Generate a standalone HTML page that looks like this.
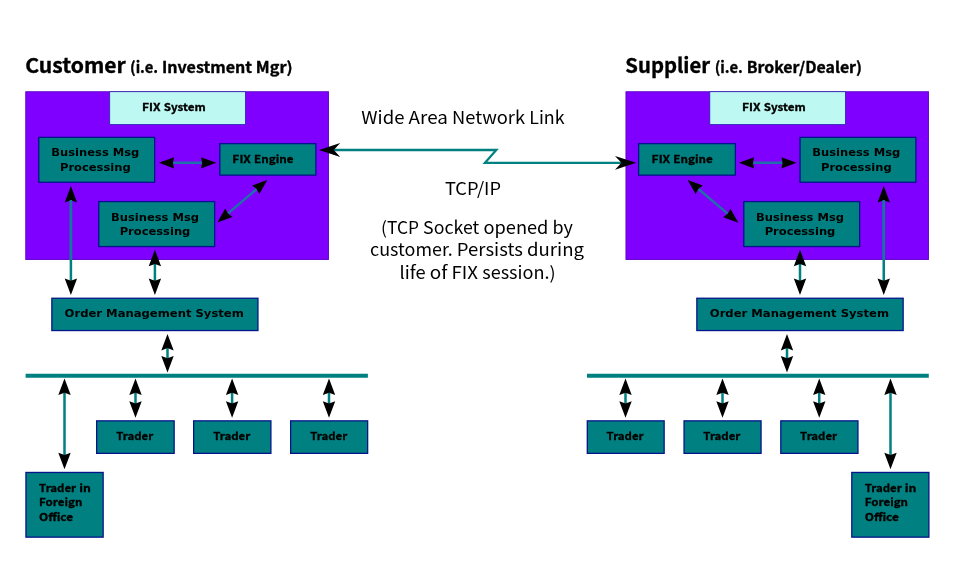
<!DOCTYPE html>
<html lang="en">
<head>
<meta charset="utf-8">
<title>FIX System Connection Diagram</title>
<style>
html,body{margin:0;padding:0;background:#fff;}
body{width:960px;height:563px;overflow:hidden;font-family:"Liberation Sans","DejaVu Sans",sans-serif;}
svg{display:block;will-change:transform;}
text{fill:#000;}
</style>
</head>
<body>
<svg width="960" height="563" viewBox="0 0 960 563" role="img" aria-label="FIX system connection diagram">
<rect x="0" y="0" width="960" height="563" fill="#fff"/>
<rect x="25.75" y="91.75" width="302.70" height="167.80" fill="#8000ff" stroke="#5a00c4" stroke-width="0.9"/>
<rect x="625.95" y="91.75" width="302.50" height="167.80" fill="#8000ff" stroke="#5a00c4" stroke-width="0.9"/>
<rect x="109.70" y="91.70" width="135.70" height="32.80" fill="#bdf8f2" stroke="#2a22b0" stroke-width="0.8"/>
<rect x="38.80" y="137.35" width="115.85" height="44.90" fill="#008080" stroke="#04148a" stroke-width="1.3"/>
<rect x="219.85" y="143.65" width="96.00" height="31.50" fill="#008080" stroke="#04148a" stroke-width="1.3"/>
<rect x="98.80" y="201.60" width="115.85" height="44.95" fill="#008080" stroke="#04148a" stroke-width="1.3"/>
<rect x="51.85" y="298.25" width="206.10" height="32.30" fill="#008080" stroke="#04148a" stroke-width="1.3"/>
<rect x="96.65" y="420.85" width="77.50" height="32.50" fill="#008080" stroke="#04148a" stroke-width="1.3"/>
<rect x="193.65" y="420.85" width="77.25" height="32.50" fill="#008080" stroke="#04148a" stroke-width="1.3"/>
<rect x="290.65" y="420.85" width="77.00" height="32.50" fill="#008080" stroke="#04148a" stroke-width="1.3"/>
<rect x="25.95" y="472.45" width="77.20" height="64.70" fill="#008080" stroke="#04148a" stroke-width="1.3"/>
<line x1="25.6" y1="375.75" x2="367.9" y2="375.75" stroke="#008080" stroke-width="4"/>
<rect x="709.80" y="91.70" width="135.60" height="32.80" fill="#bdf8f2" stroke="#2a22b0" stroke-width="0.8"/>
<rect x="638.65" y="143.65" width="96.70" height="31.50" fill="#008080" stroke="#04148a" stroke-width="1.3"/>
<rect x="800.05" y="137.35" width="115.85" height="44.90" fill="#008080" stroke="#04148a" stroke-width="1.3"/>
<rect x="743.80" y="201.60" width="115.85" height="44.95" fill="#008080" stroke="#04148a" stroke-width="1.3"/>
<rect x="696.85" y="298.25" width="206.30" height="32.30" fill="#008080" stroke="#04148a" stroke-width="1.3"/>
<rect x="587.30" y="420.85" width="76.85" height="32.50" fill="#008080" stroke="#04148a" stroke-width="1.3"/>
<rect x="684.05" y="420.85" width="77.00" height="32.50" fill="#008080" stroke="#04148a" stroke-width="1.3"/>
<rect x="780.80" y="420.85" width="77.15" height="32.50" fill="#008080" stroke="#04148a" stroke-width="1.3"/>
<rect x="851.80" y="472.45" width="77.10" height="64.70" fill="#008080" stroke="#04148a" stroke-width="1.3"/>
<line x1="587" y1="375.75" x2="928.8" y2="375.75" stroke="#008080" stroke-width="4"/>
<line x1="70.90" y1="199.20" x2="70.90" y2="281.80" stroke="#008080" stroke-width="2.5"/>
<path d="M70.90,295.00 L77.10,278.50 L70.90,280.80 L64.70,278.50Z" fill="#000"/>
<path d="M70.90,186.00 L64.70,202.50 L70.90,200.20 L77.10,202.50Z" fill="#000"/>
<line x1="70.90" y1="200.00" x2="70.90" y2="259.50" stroke="#12789a" stroke-width="2.5"/>
<line x1="154.90" y1="263.00" x2="154.90" y2="281.80" stroke="#008080" stroke-width="2.5"/>
<path d="M154.90,295.00 L161.10,278.50 L154.90,280.80 L148.70,278.50Z" fill="#000"/>
<path d="M154.90,249.80 L148.70,266.30 L154.90,264.00 L161.10,266.30Z" fill="#000"/>
<line x1="167.50" y1="347.10" x2="167.50" y2="359.30" stroke="#008080" stroke-width="2.5"/>
<path d="M167.50,372.50 L173.70,356.00 L167.50,358.30 L161.30,356.00Z" fill="#000"/>
<path d="M167.50,333.90 L161.30,350.40 L167.50,348.10 L173.70,350.40Z" fill="#000"/>
<line x1="64.50" y1="391.80" x2="64.50" y2="456.00" stroke="#008080" stroke-width="2.5"/>
<path d="M64.50,469.20 L70.70,452.70 L64.50,455.00 L58.30,452.70Z" fill="#000"/>
<path d="M64.50,378.60 L58.30,395.10 L64.50,392.80 L70.70,395.10Z" fill="#000"/>
<line x1="135.50" y1="391.80" x2="135.50" y2="404.60" stroke="#008080" stroke-width="2.5"/>
<path d="M135.50,417.80 L141.70,401.30 L135.50,403.60 L129.30,401.30Z" fill="#000"/>
<path d="M135.50,378.60 L129.30,395.10 L135.50,392.80 L141.70,395.10Z" fill="#000"/>
<line x1="232.10" y1="391.80" x2="232.10" y2="404.60" stroke="#008080" stroke-width="2.5"/>
<path d="M232.10,417.80 L238.30,401.30 L232.10,403.60 L225.90,401.30Z" fill="#000"/>
<path d="M232.10,378.60 L225.90,395.10 L232.10,392.80 L238.30,395.10Z" fill="#000"/>
<line x1="329.00" y1="391.80" x2="329.00" y2="404.60" stroke="#008080" stroke-width="2.5"/>
<path d="M329.00,417.80 L335.20,401.30 L329.00,403.60 L322.80,401.30Z" fill="#000"/>
<path d="M329.00,378.60 L322.80,395.10 L329.00,392.80 L335.20,395.10Z" fill="#000"/>
<line x1="171.90" y1="162.80" x2="203.20" y2="162.80" stroke="#1f6fa8" stroke-width="2.4"/>
<path d="M216.20,162.80 L201.00,157.20 L202.20,162.80 L201.00,168.40Z" fill="#000"/>
<path d="M158.90,162.80 L174.10,168.40 L172.90,162.80 L174.10,157.20Z" fill="#000"/>
<line x1="227.21" y1="214.18" x2="257.39" y2="188.42" stroke="#1f6fa8" stroke-width="2.4"/>
<path d="M267.28,179.98 L252.08,185.58 L256.63,189.07 L259.36,194.10Z" fill="#000"/>
<path d="M217.32,222.62 L232.52,217.02 L227.97,213.53 L225.24,208.50Z" fill="#000"/>
<line x1="883.75" y1="199.20" x2="883.75" y2="281.80" stroke="#008080" stroke-width="2.5"/>
<path d="M883.75,295.00 L889.95,278.50 L883.75,280.80 L877.55,278.50Z" fill="#000"/>
<path d="M883.75,186.00 L877.55,202.50 L883.75,200.20 L889.95,202.50Z" fill="#000"/>
<line x1="883.75" y1="200.00" x2="883.75" y2="259.50" stroke="#12789a" stroke-width="2.5"/>
<line x1="800.00" y1="263.00" x2="800.00" y2="281.80" stroke="#008080" stroke-width="2.5"/>
<path d="M800.00,295.00 L806.20,278.50 L800.00,280.80 L793.80,278.50Z" fill="#000"/>
<path d="M800.00,249.80 L793.80,266.30 L800.00,264.00 L806.20,266.30Z" fill="#000"/>
<line x1="787.00" y1="347.10" x2="787.00" y2="359.30" stroke="#008080" stroke-width="2.5"/>
<path d="M787.00,372.50 L793.20,356.00 L787.00,358.30 L780.80,356.00Z" fill="#000"/>
<path d="M787.00,333.90 L780.80,350.40 L787.00,348.10 L793.20,350.40Z" fill="#000"/>
<line x1="890.50" y1="391.80" x2="890.50" y2="456.00" stroke="#008080" stroke-width="2.5"/>
<path d="M890.50,469.20 L896.70,452.70 L890.50,455.00 L884.30,452.70Z" fill="#000"/>
<path d="M890.50,378.60 L884.30,395.10 L890.50,392.80 L896.70,395.10Z" fill="#000"/>
<line x1="625.50" y1="391.80" x2="625.50" y2="404.60" stroke="#008080" stroke-width="2.5"/>
<path d="M625.50,417.80 L631.70,401.30 L625.50,403.60 L619.30,401.30Z" fill="#000"/>
<path d="M625.50,378.60 L619.30,395.10 L625.50,392.80 L631.70,395.10Z" fill="#000"/>
<line x1="722.50" y1="391.80" x2="722.50" y2="404.60" stroke="#008080" stroke-width="2.5"/>
<path d="M722.50,417.80 L728.70,401.30 L722.50,403.60 L716.30,401.30Z" fill="#000"/>
<path d="M722.50,378.60 L716.30,395.10 L722.50,392.80 L728.70,395.10Z" fill="#000"/>
<line x1="819.25" y1="391.80" x2="819.25" y2="404.60" stroke="#008080" stroke-width="2.5"/>
<path d="M819.25,417.80 L825.45,401.30 L819.25,403.60 L813.05,401.30Z" fill="#000"/>
<path d="M819.25,378.60 L813.05,395.10 L819.25,392.80 L825.45,395.10Z" fill="#000"/>
<line x1="751.90" y1="162.80" x2="783.60" y2="162.80" stroke="#1f6fa8" stroke-width="2.4"/>
<path d="M796.60,162.80 L781.40,157.20 L782.60,162.80 L781.40,168.40Z" fill="#000"/>
<path d="M738.90,162.80 L754.10,168.40 L752.90,162.80 L754.10,157.20Z" fill="#000"/>
<line x1="728.46" y1="214.43" x2="697.54" y2="188.27" stroke="#1f6fa8" stroke-width="2.4"/>
<path d="M687.62,179.88 L695.61,193.97 L698.31,188.92 L702.84,185.42Z" fill="#000"/>
<path d="M738.38,222.82 L730.39,208.73 L727.69,213.78 L723.16,217.28Z" fill="#000"/>
<polyline points="333,150 496.3,150 485,162.8 622,162.8" fill="none" stroke="#008080" stroke-width="2.3" stroke-linejoin="miter"/>
<path d="M319.00,150.00 L340.20,156.90 L333.80,150.00 L340.20,143.10Z" fill="#000"/>
<path d="M636.20,162.80 L615.00,155.90 L621.40,162.80 L615.00,169.70Z" fill="#000"/>
<text y="72.7" font-family="'Noto Sans CJK JP', 'DejaVu Sans', 'Liberation Sans', sans-serif" font-size="20.19px" font-weight="bold" stroke="#000" stroke-width="0.35"><tspan x="25.25" textLength="100.54" lengthAdjust="spacingAndGlyphs">Customer</tspan></text>
<text y="72.8" font-family="'Noto Sans CJK JP', 'DejaVu Sans', 'Liberation Sans', sans-serif" font-size="15.19px" font-weight="bold" stroke="#000" stroke-width="0.35"><tspan x="130.05" textLength="28.06" lengthAdjust="spacingAndGlyphs">(i.e.</tspan> <tspan x="161.93" textLength="90.11" lengthAdjust="spacingAndGlyphs">Investment</tspan> <tspan x="255.85" textLength="36.81" lengthAdjust="spacingAndGlyphs">Mgr)</tspan></text>
<text y="72.7" font-family="'Noto Sans CJK JP', 'DejaVu Sans', 'Liberation Sans', sans-serif" font-size="20.19px" font-weight="bold" stroke="#000" stroke-width="0.35"><tspan x="625.35" textLength="84.76" lengthAdjust="spacingAndGlyphs">Supplier</tspan></text>
<text y="72.8" font-family="'Noto Sans CJK JP', 'DejaVu Sans', 'Liberation Sans', sans-serif" font-size="15.24px" font-weight="bold" stroke="#000" stroke-width="0.35"><tspan x="714.75" textLength="28.15" lengthAdjust="spacingAndGlyphs">(i.e.</tspan> <tspan x="746.72" textLength="115.34" lengthAdjust="spacingAndGlyphs">Broker/Dealer)</tspan></text>
<text y="123.75" font-family="'Noto Sans CJK JP', 'DejaVu Sans', 'Liberation Sans', sans-serif" font-size="17.46px" font-weight="normal"><tspan x="361.35" textLength="43.11" lengthAdjust="spacingAndGlyphs">Wide</tspan> <tspan x="408.63" textLength="39.34" lengthAdjust="spacingAndGlyphs">Area</tspan> <tspan x="452.13" textLength="72.94" lengthAdjust="spacingAndGlyphs">Network</tspan> <tspan x="529.22" textLength="35.33" lengthAdjust="spacingAndGlyphs">Link</tspan></text>
<text y="194.75" font-family="'Noto Sans CJK JP', 'DejaVu Sans', 'Liberation Sans', sans-serif" font-size="17.46px" font-weight="normal"><tspan x="444.90" textLength="56.11" lengthAdjust="spacingAndGlyphs">TCP/IP</tspan></text>
<text y="233.75" font-family="'Noto Sans CJK JP', 'DejaVu Sans', 'Liberation Sans', sans-serif" font-size="17.46px" font-weight="normal"><tspan x="381.11" textLength="37.83" lengthAdjust="spacingAndGlyphs">(TCP</tspan> <tspan x="423.10" textLength="56.19" lengthAdjust="spacingAndGlyphs">Socket</tspan> <tspan x="483.46" textLength="64.97" lengthAdjust="spacingAndGlyphs">opened</tspan> <tspan x="552.60" textLength="20.39" lengthAdjust="spacingAndGlyphs">by</tspan></text>
<text y="256.25" font-family="'Noto Sans CJK JP', 'DejaVu Sans', 'Liberation Sans', sans-serif" font-size="17.46px" font-weight="normal"><tspan x="370.07" textLength="82.64" lengthAdjust="spacingAndGlyphs">customer.</tspan> <tspan x="456.89" textLength="66.00" lengthAdjust="spacingAndGlyphs">Persists</tspan> <tspan x="527.04" textLength="56.98" lengthAdjust="spacingAndGlyphs">during</tspan></text>
<text y="278.75" font-family="'Noto Sans CJK JP', 'DejaVu Sans', 'Liberation Sans', sans-serif" font-size="17.46px" font-weight="normal"><tspan x="399.47" textLength="26.14" lengthAdjust="spacingAndGlyphs">life</tspan> <tspan x="429.77" textLength="17.61" lengthAdjust="spacingAndGlyphs">of</tspan> <tspan x="451.53" textLength="26.52" lengthAdjust="spacingAndGlyphs">FIX</tspan> <tspan x="482.21" textLength="73.42" lengthAdjust="spacingAndGlyphs">session.)</tspan></text>
<text y="111.3" font-family="'Noto Sans CJK JP', 'DejaVu Sans', 'Liberation Sans', sans-serif" font-size="10.80px" font-weight="bold" stroke="#000" stroke-width="0.3"><tspan x="141.98" textLength="18.53" lengthAdjust="spacingAndGlyphs">FIX</tspan> <tspan x="163.65" textLength="42.17" lengthAdjust="spacingAndGlyphs">System</tspan></text>
<text y="111.3" font-family="'Noto Sans CJK JP', 'DejaVu Sans', 'Liberation Sans', sans-serif" font-size="10.80px" font-weight="bold" stroke="#000" stroke-width="0.3"><tspan x="741.98" textLength="18.53" lengthAdjust="spacingAndGlyphs">FIX</tspan> <tspan x="763.65" textLength="42.17" lengthAdjust="spacingAndGlyphs">System</tspan></text>
<text y="162.55" font-family="'Noto Sans CJK JP', 'DejaVu Sans', 'Liberation Sans', sans-serif" font-size="10.80px" font-weight="bold" stroke="#000" stroke-width="0.3"><tspan x="232.36" textLength="18.53" lengthAdjust="spacingAndGlyphs">FIX</tspan> <tspan x="254.03" textLength="39.41" lengthAdjust="spacingAndGlyphs">Engine</tspan></text>
<text y="162.55" font-family="'Noto Sans CJK JP', 'DejaVu Sans', 'Liberation Sans', sans-serif" font-size="10.80px" font-weight="bold" stroke="#000" stroke-width="0.3"><tspan x="651.61" textLength="18.53" lengthAdjust="spacingAndGlyphs">FIX</tspan> <tspan x="673.28" textLength="39.41" lengthAdjust="spacingAndGlyphs">Engine</tspan></text>
<text y="440.05" font-family="'Noto Sans CJK JP', 'DejaVu Sans', 'Liberation Sans', sans-serif" font-size="10.80px" font-weight="bold" stroke="#000" stroke-width="0.3"><tspan x="116.26" textLength="36.98" lengthAdjust="spacingAndGlyphs">Trader</tspan></text>
<text y="440.05" font-family="'Noto Sans CJK JP', 'DejaVu Sans', 'Liberation Sans', sans-serif" font-size="10.80px" font-weight="bold" stroke="#000" stroke-width="0.3"><tspan x="606.56" textLength="36.98" lengthAdjust="spacingAndGlyphs">Trader</tspan></text>
<text y="440.05" font-family="'Noto Sans CJK JP', 'DejaVu Sans', 'Liberation Sans', sans-serif" font-size="10.80px" font-weight="bold" stroke="#000" stroke-width="0.3"><tspan x="213.26" textLength="36.98" lengthAdjust="spacingAndGlyphs">Trader</tspan></text>
<text y="440.05" font-family="'Noto Sans CJK JP', 'DejaVu Sans', 'Liberation Sans', sans-serif" font-size="10.80px" font-weight="bold" stroke="#000" stroke-width="0.3"><tspan x="703.31" textLength="36.98" lengthAdjust="spacingAndGlyphs">Trader</tspan></text>
<text y="440.05" font-family="'Noto Sans CJK JP', 'DejaVu Sans', 'Liberation Sans', sans-serif" font-size="10.80px" font-weight="bold" stroke="#000" stroke-width="0.3"><tspan x="310.26" textLength="36.98" lengthAdjust="spacingAndGlyphs">Trader</tspan></text>
<text y="440.05" font-family="'Noto Sans CJK JP', 'DejaVu Sans', 'Liberation Sans', sans-serif" font-size="10.80px" font-weight="bold" stroke="#000" stroke-width="0.3"><tspan x="800.06" textLength="36.98" lengthAdjust="spacingAndGlyphs">Trader</tspan></text>
<text y="491.85" font-family="'Noto Sans CJK JP', 'DejaVu Sans', 'Liberation Sans', sans-serif" font-size="10.80px" font-weight="bold" stroke="#000" stroke-width="0.3"><tspan x="39.05" textLength="36.98" lengthAdjust="spacingAndGlyphs">Trader</tspan> <tspan x="79.18" textLength="11.63" lengthAdjust="spacingAndGlyphs">in</tspan></text>
<text y="506.3" font-family="'Noto Sans CJK JP', 'DejaVu Sans', 'Liberation Sans', sans-serif" font-size="10.80px" font-weight="bold" stroke="#000" stroke-width="0.3"><tspan x="39.05" textLength="43.25" lengthAdjust="spacingAndGlyphs">Foreign</tspan></text>
<text y="520.75" font-family="'Noto Sans CJK JP', 'DejaVu Sans', 'Liberation Sans', sans-serif" font-size="10.80px" font-weight="bold" stroke="#000" stroke-width="0.3"><tspan x="39.05" textLength="34.09" lengthAdjust="spacingAndGlyphs">Office</tspan></text>
<text y="491.85" font-family="'Noto Sans CJK JP', 'DejaVu Sans', 'Liberation Sans', sans-serif" font-size="10.80px" font-weight="bold" stroke="#000" stroke-width="0.3"><tspan x="864.75" textLength="36.98" lengthAdjust="spacingAndGlyphs">Trader</tspan> <tspan x="904.88" textLength="11.63" lengthAdjust="spacingAndGlyphs">in</tspan></text>
<text y="506.3" font-family="'Noto Sans CJK JP', 'DejaVu Sans', 'Liberation Sans', sans-serif" font-size="10.80px" font-weight="bold" stroke="#000" stroke-width="0.3"><tspan x="864.75" textLength="43.25" lengthAdjust="spacingAndGlyphs">Foreign</tspan></text>
<text y="520.75" font-family="'Noto Sans CJK JP', 'DejaVu Sans', 'Liberation Sans', sans-serif" font-size="10.80px" font-weight="bold" stroke="#000" stroke-width="0.3"><tspan x="864.75" textLength="34.09" lengthAdjust="spacingAndGlyphs">Office</tspan></text>
<text y="156.2" font-family="'DejaVu Sans', 'Liberation Sans', sans-serif" font-size="10.00px" font-weight="bold"><tspan x="51.32" textLength="57.42" lengthAdjust="spacingAndGlyphs">Business</tspan> <tspan x="112.73" textLength="26.55" lengthAdjust="spacingAndGlyphs">Msg</tspan></text>
<text y="170.7" font-family="'DejaVu Sans', 'Liberation Sans', sans-serif" font-size="10.00px" font-weight="bold"><tspan x="59.96" textLength="70.67" lengthAdjust="spacingAndGlyphs">Processing</tspan></text>
<text y="220.5" font-family="'DejaVu Sans', 'Liberation Sans', sans-serif" font-size="10.00px" font-weight="bold"><tspan x="111.02" textLength="57.42" lengthAdjust="spacingAndGlyphs">Business</tspan> <tspan x="172.43" textLength="26.55" lengthAdjust="spacingAndGlyphs">Msg</tspan></text>
<text y="235" font-family="'DejaVu Sans', 'Liberation Sans', sans-serif" font-size="10.00px" font-weight="bold"><tspan x="119.66" textLength="70.67" lengthAdjust="spacingAndGlyphs">Processing</tspan></text>
<text y="156.2" font-family="'DejaVu Sans', 'Liberation Sans', sans-serif" font-size="10.00px" font-weight="bold"><tspan x="812.32" textLength="57.42" lengthAdjust="spacingAndGlyphs">Business</tspan> <tspan x="873.73" textLength="26.55" lengthAdjust="spacingAndGlyphs">Msg</tspan></text>
<text y="170.7" font-family="'DejaVu Sans', 'Liberation Sans', sans-serif" font-size="10.00px" font-weight="bold"><tspan x="820.96" textLength="70.67" lengthAdjust="spacingAndGlyphs">Processing</tspan></text>
<text y="220.5" font-family="'DejaVu Sans', 'Liberation Sans', sans-serif" font-size="10.00px" font-weight="bold"><tspan x="756.02" textLength="57.42" lengthAdjust="spacingAndGlyphs">Business</tspan> <tspan x="817.43" textLength="26.55" lengthAdjust="spacingAndGlyphs">Msg</tspan></text>
<text y="235" font-family="'DejaVu Sans', 'Liberation Sans', sans-serif" font-size="10.00px" font-weight="bold"><tspan x="764.66" textLength="70.67" lengthAdjust="spacingAndGlyphs">Processing</tspan></text>
<text y="317.4" font-family="'DejaVu Sans', 'Liberation Sans', sans-serif" font-size="10.00px" font-weight="bold"><tspan x="64.61" textLength="37.47" lengthAdjust="spacingAndGlyphs">Order</tspan> <tspan x="106.10" textLength="85.36" lengthAdjust="spacingAndGlyphs">Management</tspan> <tspan x="195.47" textLength="48.31" lengthAdjust="spacingAndGlyphs">System</tspan></text>
<text y="317.4" font-family="'DejaVu Sans', 'Liberation Sans', sans-serif" font-size="10.00px" font-weight="bold"><tspan x="709.81" textLength="37.47" lengthAdjust="spacingAndGlyphs">Order</tspan> <tspan x="751.30" textLength="85.36" lengthAdjust="spacingAndGlyphs">Management</tspan> <tspan x="840.67" textLength="48.31" lengthAdjust="spacingAndGlyphs">System</tspan></text>
</svg>
</body>
</html>
